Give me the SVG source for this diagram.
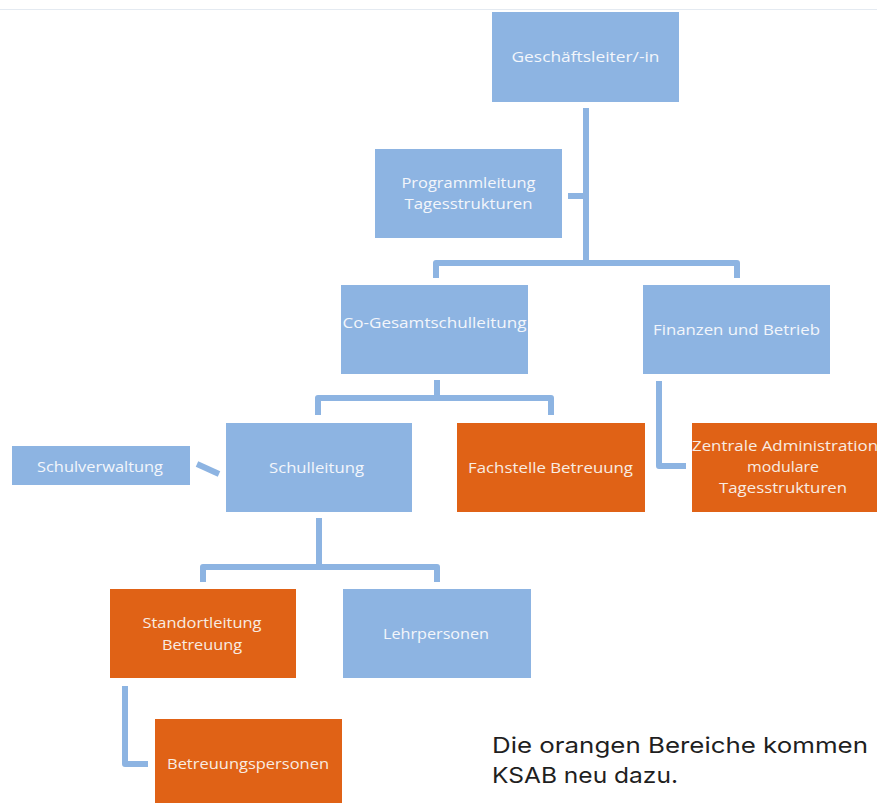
<svg xmlns="http://www.w3.org/2000/svg" width="877" height="803" viewBox="0 0 877 803">
<style>
.b{fill:#8db4e2}
.o{fill:#e06216}
.t{font-family:"Open Sans","Noto Sans","DejaVu Sans",sans-serif;font-size:15px;fill:#f3f6fb;text-anchor:middle}
.to{fill:#f8ece2}
.c{fill:none;stroke:#8db4e2;stroke-width:6;stroke-linejoin:round;stroke-linecap:butt}
.n{font-family:Inter,"Open Sans","DejaVu Sans",sans-serif;font-size:22px;fill:#1f1f1f}
</style>
<rect width="877" height="803" fill="#ffffff"/>
<line x1="0" y1="9.5" x2="877" y2="9.5" stroke="#e4eaf1" stroke-width="1"/>
<g id="connectors">
<path class="c" d="M586,108 V263"/>
<path class="c" d="M436,278 V263 H737 V278"/>
<path class="c" d="M568,196 H586"/>
<path class="c" d="M437,380 V398"/>
<path class="c" d="M318,415 V398 H551 V415"/>
<path class="c" d="M197,464 L219,474"/>
<path class="c" d="M659,381 V466 H686"/>
<path class="c" d="M319,518 V567"/>
<path class="c" d="M203,582 V567 H437 V582"/>
<path class="c" d="M125,686 V764 H148"/>
</g>
<g id="geschaeftsleiter"><rect class="b" x="492" y="12" width="187" height="90"/><text class="t" x="585.5" y="62" textLength="148" lengthAdjust="spacingAndGlyphs">Geschäftsleiter/-in</text></g>
<g id="programmleitung"><rect class="b" x="375" y="149" width="187" height="89"/><text class="t" x="468.5" y="188" textLength="134" lengthAdjust="spacingAndGlyphs">Programmleitung</text><text class="t" x="468.5" y="209" textLength="128" lengthAdjust="spacingAndGlyphs">Tagesstrukturen</text></g>
<g id="co-gesamtschulleitung"><rect class="b" x="341" y="285" width="187" height="89"/><text class="t" x="434.5" y="328" textLength="184" lengthAdjust="spacingAndGlyphs">Co-Gesamtschulleitung</text></g>
<g id="finanzen"><rect class="b" x="643" y="285" width="187" height="89"/><text class="t" x="736.5" y="335" textLength="167" lengthAdjust="spacingAndGlyphs">Finanzen und Betrieb</text></g>
<g id="schulverwaltung"><rect class="b" x="12" y="446" width="178" height="39"/><text class="t" x="100" y="472" textLength="126" lengthAdjust="spacingAndGlyphs">Schulverwaltung</text></g>
<g id="schulleitung"><rect class="b" x="226" y="423" width="186" height="89"/><text class="t" x="316.5" y="473" textLength="95" lengthAdjust="spacingAndGlyphs">Schulleitung</text></g>
<g id="fachstelle"><rect class="o" x="457" y="423" width="188" height="89"/><text class="t to" x="550.5" y="473" textLength="165" lengthAdjust="spacingAndGlyphs">Fachstelle Betreuung</text></g>
<g id="zentrale-administration"><rect class="o" x="692" y="423" width="190" height="89"/><text class="t to" x="785" y="451" textLength="186" lengthAdjust="spacingAndGlyphs">Zentrale Administration</text><text class="t to" x="783" y="472" textLength="72" lengthAdjust="spacingAndGlyphs">modulare</text><text class="t to" x="783" y="493" textLength="128" lengthAdjust="spacingAndGlyphs">Tagesstrukturen</text></g>
<g id="standortleitung"><rect class="o" x="110" y="589" width="186" height="89"/><text class="t to" x="202" y="628" textLength="119" lengthAdjust="spacingAndGlyphs">Standortleitung</text><text class="t to" x="202" y="650" textLength="80" lengthAdjust="spacingAndGlyphs">Betreuung</text></g>
<g id="lehrpersonen"><rect class="b" x="343" y="589" width="188" height="89"/><text class="t" x="436" y="639" textLength="106" lengthAdjust="spacingAndGlyphs">Lehrpersonen</text></g>
<g id="betreuungspersonen"><rect class="o" x="155" y="719" width="187" height="90"/><text class="t to" x="248" y="769" textLength="162" lengthAdjust="spacingAndGlyphs">Betreuungspersonen</text></g>
<g id="note"><text class="n" x="492" y="753" textLength="376" lengthAdjust="spacingAndGlyphs">Die orangen Bereiche kommen</text><text class="n" x="492" y="783" textLength="186" lengthAdjust="spacingAndGlyphs">KSAB neu dazu.</text></g>
</svg>
